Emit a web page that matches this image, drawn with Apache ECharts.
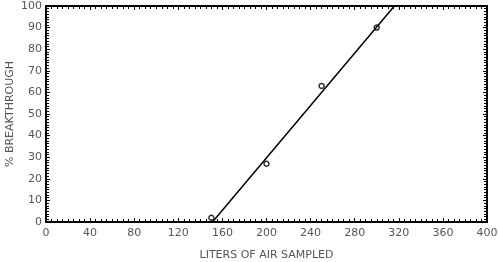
<!DOCTYPE html>
<html><head><meta charset="utf-8">
<script src="https://cdn.jsdelivr.net/npm/echarts@6/dist/echarts.min.js"></script>
<style>html,body{margin:0;padding:0;background:#fff}#c{width:500px;height:262px}</style>
</head><body><div id="c"></div>
<script>
var xPoints = [150, 200, 250, 300];
var yPoints = [2, 27, 63, 90];
var fitX = [151, 316];
var fitY = [0, 100];
var xTitle = 'LITERS OF AIR SAMPLED';
var yTitle = '% BREAKTHROUGH';

var chart = echarts.init(document.getElementById('c'));
var font = 'DejaVu Sans';
function ax(extra) {
  return Object.assign({
    axisLine: {show: true, onZero: false, lineStyle: {color: '#000', width: 2}},
    axisTick: {show: true, inside: true, length: 4, lineStyle: {color: '#000'}},
    minorTick: {show: true, splitNumber: 8, length: 3, lineStyle: {color: '#000'}},
    splitLine: {show: false},
    minorSplitLine: {show: false}
  }, extra);
}
chart.setOption({
  animation: false,
  grid: {left: 46, right: 13, top: 6, bottom: 40, outerBoundsMode: 'none', containLabel: false},
  xAxis: [ax({
    type: 'value', min: 0, max: 400, interval: 40,
    name: xTitle, nameLocation: 'middle', nameGap: 28, nameMoveOverlap: false,
    nameTextStyle: {color: '#555', fontFamily: font, fontSize: 11},
    axisLabel: {color: '#555', fontFamily: font, fontSize: 11, margin: 6}
  }), ax({
    type: 'value', min: 0, max: 400, interval: 40, position: 'top',
    axisLabel: {show: false}
  })],
  yAxis: [ax({
    type: 'value', min: 0, max: 100, interval: 10,
    name: yTitle, nameLocation: 'middle', nameGap: 30, nameMoveOverlap: false,
    nameTextStyle: {color: '#555', fontFamily: font, fontSize: 11},
    axisLabel: {color: '#555', fontFamily: font, fontSize: 11, margin: 4}
  }), ax({
    type: 'value', min: 0, max: 100, interval: 10, position: 'right',
    axisLabel: {show: false}
  })],
  series: [{
    type: 'line',
    data: fitX.map(function(x, i){ return [x, fitY[i]]; }),
    symbol: 'none',
    lineStyle: {color: '#000', width: 1.5}
  }, {
    type: 'scatter',
    data: xPoints.map(function(x, i){ return [x, yPoints[i]]; }),
    symbol: 'circle',
    symbolSize: 5,
    itemStyle: {color: '#fff', borderColor: '#000', borderWidth: 1.5}
  }]
});
</script></body></html>
